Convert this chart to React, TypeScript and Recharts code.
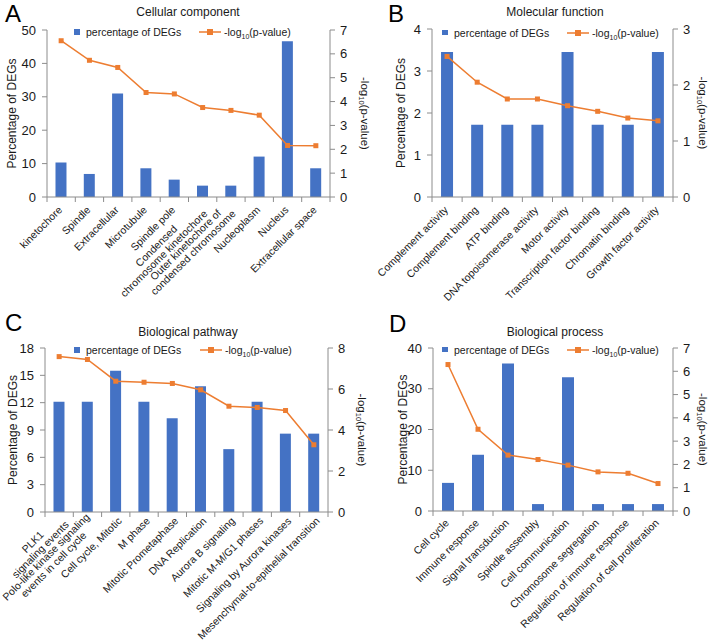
import React from "react";
import { ComposedChart, Bar, Line, XAxis, YAxis } from "recharts";

const FONT = '"Liberation Sans", Arial, Helvetica, sans-serif';
const BLUE = "#4472C4";
const ORANGE = "#ED7D31";
const AXIS = "#8c8c8c";
const INK = "#1a1a1a";
const X_FONT = 10.5;
const Y_FONT = 13;

// A - Cellular component
const ccCategories = [
  "kinetochore",
  "Spindle",
  "Extracellular",
  "Microtubule",
  "Spindle pole",
  "Condensed\nchromosome kinetochore",
  "Outer kinetochore of\ncondensed chromosome",
  "Nucleoplasm",
  "Nucleus",
  "Extracellular space",
];
const ccPercent = [10.3, 6.9, 31.0, 8.6, 5.2, 3.4, 3.4, 12.1, 46.6, 8.6];
const ccLogP = [6.55, 5.73, 5.43, 4.38, 4.32, 3.75, 3.63, 3.43, 2.16, 2.15];
const ccLeftTicks = [0, 10, 20, 30, 40, 50];
const ccRightTicks = [0, 1, 2, 3, 4, 5, 6, 7];

// B - Molecular function
const mfCategories = [
  "Complement activity",
  "Complement binding",
  "ATP binding",
  "DNA topoisomerase activity",
  "Motor activity",
  "Transcription factor binding",
  "Chromatin binding",
  "Growth factor activity",
];
const mfPercent = [3.45, 1.72, 1.72, 1.72, 3.45, 1.72, 1.72, 3.45];
const mfLogP = [2.51, 2.05, 1.75, 1.75, 1.63, 1.53, 1.41, 1.36];
const mfLeftTicks = [0, 1, 2, 3, 4];
const mfRightTicks = [0, 1, 2, 3];

// C - Biological pathway
const pwCategories = [
  "PLK1\nsignaling events",
  "Polo-like kinase signaling\nevents in cell cycle",
  "Cell cycle, Mitotic",
  "M phase",
  "Mitotic Prometaphase",
  "DNA Replication",
  "Aurora B signaling",
  "Mitotic M-M/G1 phases",
  "Signaling by Aurora kinases",
  "Mesenchymal-to-epithelial transition",
];
const pwPercent = [12.1, 12.1, 15.5, 12.1, 10.3, 13.8, 6.9, 12.1, 8.6, 8.6];
const pwLogP = [7.58, 7.44, 6.38, 6.33, 6.27, 5.96, 5.16, 5.1, 4.95, 3.28];
const pwLeftTicks = [0, 3, 6, 9, 12, 15, 18];
const pwRightTicks = [0, 2, 4, 6, 8];

// D - Biological process
const bpCategories = [
  "Cell cycle",
  "Immune response",
  "Signal transduction",
  "Spindle assembly",
  "Cell communication",
  "Chromosome segregation",
  "Regulation of immune response",
  "Regulation of cell proliferation",
];
const bpPercent = [6.9, 13.8, 36.2, 1.7, 32.8, 1.7, 1.7, 1.7];
const bpLogP = [6.29, 3.51, 2.4, 2.21, 1.97, 1.68, 1.62, 1.18];
const bpLeftTicks = [0, 10, 20, 30, 40];
const bpRightTicks = [0, 1, 2, 3, 4, 5, 6, 7];

const measureCtx =
  typeof document !== "undefined" ? document.createElement("canvas").getContext("2d") : null;

function textWidth(s: string, size: number) {
  if (measureCtx) {
    measureCtx.font = `${size}px "Liberation Sans"`;
    return measureCtx.measureText(s).width;
  }
  return s.length * size * 0.5;
}

// rotated category label; multi-line labels are centred on each other
function CategoryTick(props: any) {
  const { x, y, payload, index, band, count, labelDx, labelDy } = props;
  const lines = String(payload.value).split("\n");
  const maxW = Math.max(...lines.map((l) => textWidth(l, X_FONT)));
  const lh = 10.7;
  return (
    <g>
      <line x1={x - band / 2} y1={y} x2={x - band / 2} y2={y + 5} stroke={AXIS} />
      {index === count - 1 && (
        <line x1={x + band / 2} y1={y} x2={x + band / 2} y2={y + 5} stroke={AXIS} />
      )}
      <g transform={`translate(${x + labelDx},${y + labelDy}) rotate(-45)`}>
        {lines.map((l, i) => (
          <text
            key={i}
            x={-maxW / 2}
            y={(i - (lines.length - 1) / 2) * lh}
            dy="0.35em"
            textAnchor="middle"
            fontSize={X_FONT}
            fontFamily={FONT}
            fill={INK}
          >
            {l}
          </text>
        ))}
      </g>
    </g>
  );
}

function SquareDot(props: any) {
  const { cx, cy } = props;
  if (cx == null || cy == null) return <g />;
  return <rect x={cx - 2.5} y={cy - 2.5} width={5} height={5} fill={ORANGE} />;
}

function LeftTitle({ viewBox, gap }: any) {
  const cx = viewBox.x + viewBox.width - gap;
  const cy = viewBox.y + viewBox.height / 2;
  return (
    <text
      x={cx}
      y={cy}
      transform={`rotate(-90, ${cx}, ${cy})`}
      textAnchor="middle"
      dominantBaseline="central"
      fontSize={12}
      fontFamily={FONT}
      fill={INK}
    >
      Percentage of DEGs
    </text>
  );
}

function RightTitle({ viewBox, gap }: any) {
  const cx = viewBox.x + gap;
  const cy = viewBox.y + viewBox.height / 2;
  return (
    <text
      x={cx}
      y={cy}
      transform={`rotate(90, ${cx}, ${cy})`}
      textAnchor="middle"
      dominantBaseline="central"
      fontSize={11.5}
      fontFamily={FONT}
      fill={INK}
    >
      -log
      <tspan dy={3} fontSize={7.5}>
        10
      </tspan>
      <tspan dy={-3}>(p-value)</tspan>
    </text>
  );
}

function Panel(props: any) {
  const { letter, title, categories, percent, logP, leftTicks, rightTicks, box } = props;
  const data = categories.map((name: string, i: number) => ({
    name,
    pct: percent[i],
    logp: logP[i],
  }));
  const n = categories.length;
  const band = (box.width - box.leftW - box.rightW) / n;
  return (
    <>
      <div
        style={{
          position: "absolute",
          left: box.left,
          top: box.top,
          width: box.width,
          height: box.height,
        }}
      >
        <ComposedChart
          width={box.width}
          height={box.height}
          data={data}
          margin={{ top: box.plotTop, right: 0, bottom: 0, left: 0 }}
          barCategoryGap="30%"
        >
          <XAxis
            dataKey="name"
            height={box.height - box.plotBottom}
            interval={0}
            tickSize={0}
            tickMargin={0}
            axisLine={{ stroke: AXIS }}
            tickLine={false}
            tick={(p: any) => (
              <CategoryTick
                {...p}
                band={band}
                count={n}
                labelDx={box.labelDx}
                labelDy={box.labelDy}
              />
            )}
          />
          <YAxis
            yAxisId="left"
            width={box.leftW}
            domain={[0, leftTicks[leftTicks.length - 1]]}
            ticks={leftTicks}
            interval={0}
            tickSize={5}
            tickMargin={6}
            axisLine={{ stroke: AXIS }}
            tickLine={{ stroke: AXIS }}
            tick={{ fill: INK, fontSize: Y_FONT, fontFamily: FONT }}
            label={(p: any) => <LeftTitle viewBox={p.viewBox} gap={box.leftGap} />}
          />
          <YAxis
            yAxisId="right"
            orientation="right"
            width={box.rightW}
            domain={[0, rightTicks[rightTicks.length - 1]]}
            ticks={rightTicks}
            interval={0}
            tickSize={5}
            tickMargin={5}
            axisLine={{ stroke: AXIS }}
            tickLine={{ stroke: AXIS }}
            tick={{ fill: INK, fontSize: Y_FONT, fontFamily: FONT }}
            label={(p: any) => <RightTitle viewBox={p.viewBox} gap={box.rightGap} />}
          />
          <Bar yAxisId="left" dataKey="pct" fill={BLUE} isAnimationActive={false} />
          <Line
            yAxisId="right"
            type="linear"
            dataKey="logp"
            stroke={ORANGE}
            strokeWidth={1.5}
            dot={(p: any) => <SquareDot key={p.index} {...p} />}
            activeDot={false}
            isAnimationActive={false}
          />
        </ComposedChart>
      </div>
      <div
        style={{
          position: "absolute",
          left: box.letterX,
          top: box.letterY,
          fontSize: 24,
          lineHeight: "24px",
          fontFamily: FONT,
          color: "#000",
        }}
      >
        {letter}
      </div>
      <div
        style={{
          position: "absolute",
          left: box.titleX - 100,
          width: 200,
          top: box.titleY - 7,
          lineHeight: "14px",
          textAlign: "center",
          fontSize: 12,
          fontFamily: FONT,
          color: INK,
        }}
      >
        {title}
      </div>
      <div
        style={{
          position: "absolute",
          left: box.legend.sqX,
          top: box.legend.y - 7,
          height: 14,
          lineHeight: "14px",
          fontSize: 10.5,
          fontFamily: FONT,
          color: INK,
          whiteSpace: "nowrap",
        }}
      >
        <span
          style={{
            position: "absolute",
            left: 0,
            top: 4,
            width: 5.5,
            height: 5.5,
            background: BLUE,
          }}
        />
        <span style={{ position: "absolute", left: 12, top: 0 }}>percentage of DEGs</span>
        <svg
          width={22}
          height={8}
          style={{ position: "absolute", left: box.legend.lineX - box.legend.sqX, top: 3 }}
        >
          <line x1={0} y1={4} x2={22} y2={4} stroke={ORANGE} strokeWidth={1.5} />
          <rect x={8} y={1} width={6} height={6} fill={ORANGE} />
        </svg>
        <span style={{ position: "absolute", left: box.legend.lineX - box.legend.sqX + 25, top: 0 }}>
          -log
          <span style={{ fontSize: 7, position: "relative", top: 3 }}>10</span>
          (p-value)
        </span>
      </div>
    </>
  );
}

export default function App() {
  return (
    <div
      style={{
        position: "absolute",
        left: 0,
        top: 0,
        width: 709,
        height: 643,
        background: "#fff",
        overflow: "hidden",
      }}
    >
      <Panel
        letter="A"
        title="Cellular component"
        categories={ccCategories}
        percent={ccPercent}
        logP={ccLogP}
        leftTicks={ccLeftTicks}
        rightTicks={ccRightTicks}
        box={{
          left: 0, top: 0, width: 372, height: 320, leftW: 47, rightW: 42,
          plotTop: 30, plotBottom: 197, leftGap: 35, rightGap: 35, labelDx: -1, labelDy: 11,
          letterX: 5, letterY: 2, titleX: 188, titleY: 12,
          legend: { sqX: 74, y: 32, lineX: 199 },
        }}
      />
      <Panel
        letter="B"
        title="Molecular function"
        categories={mfCategories}
        percent={mfPercent}
        logP={mfLogP}
        leftTicks={mfLeftTicks}
        rightTicks={mfRightTicks}
        box={{
          left: 355, top: 0, width: 354, height: 320, leftW: 77, rightW: 36,
          plotTop: 29, plotBottom: 197, leftGap: 31, rightGap: 30, labelDx: -1, labelDy: 11,
          letterX: 388, letterY: 2, titleX: 555, titleY: 12,
          legend: { sqX: 442, y: 32.5, lineX: 567 },
        }}
      />
      <Panel
        letter="C"
        title="Biological pathway"
        categories={pwCategories}
        percent={pwPercent}
        logP={pwLogP}
        leftTicks={pwLeftTicks}
        rightTicks={pwRightTicks}
        box={{
          left: 0, top: 320, width: 372, height: 323, leftW: 45, rightW: 44,
          plotTop: 28, plotBottom: 192, leftGap: 32, rightGap: 34, labelDx: 4, labelDy: 7,
          letterX: 5, letterY: 311, titleX: 188, titleY: 332,
          legend: { sqX: 74, y: 350, lineX: 200 },
        }}
      />
      <Panel
        letter="D"
        title="Biological process"
        categories={bpCategories}
        percent={bpPercent}
        logP={bpLogP}
        leftTicks={bpLeftTicks}
        rightTicks={bpRightTicks}
        box={{
          left: 355, top: 320, width: 354, height: 323, leftW: 78, rightW: 36,
          plotTop: 28, plotBottom: 191, leftGap: 30, rightGap: 30, labelDx: -1, labelDy: 10,
          letterX: 389, letterY: 312, titleX: 555, titleY: 332,
          legend: { sqX: 442, y: 349.5, lineX: 567 },
        }}
      />
    </div>
  );
}
